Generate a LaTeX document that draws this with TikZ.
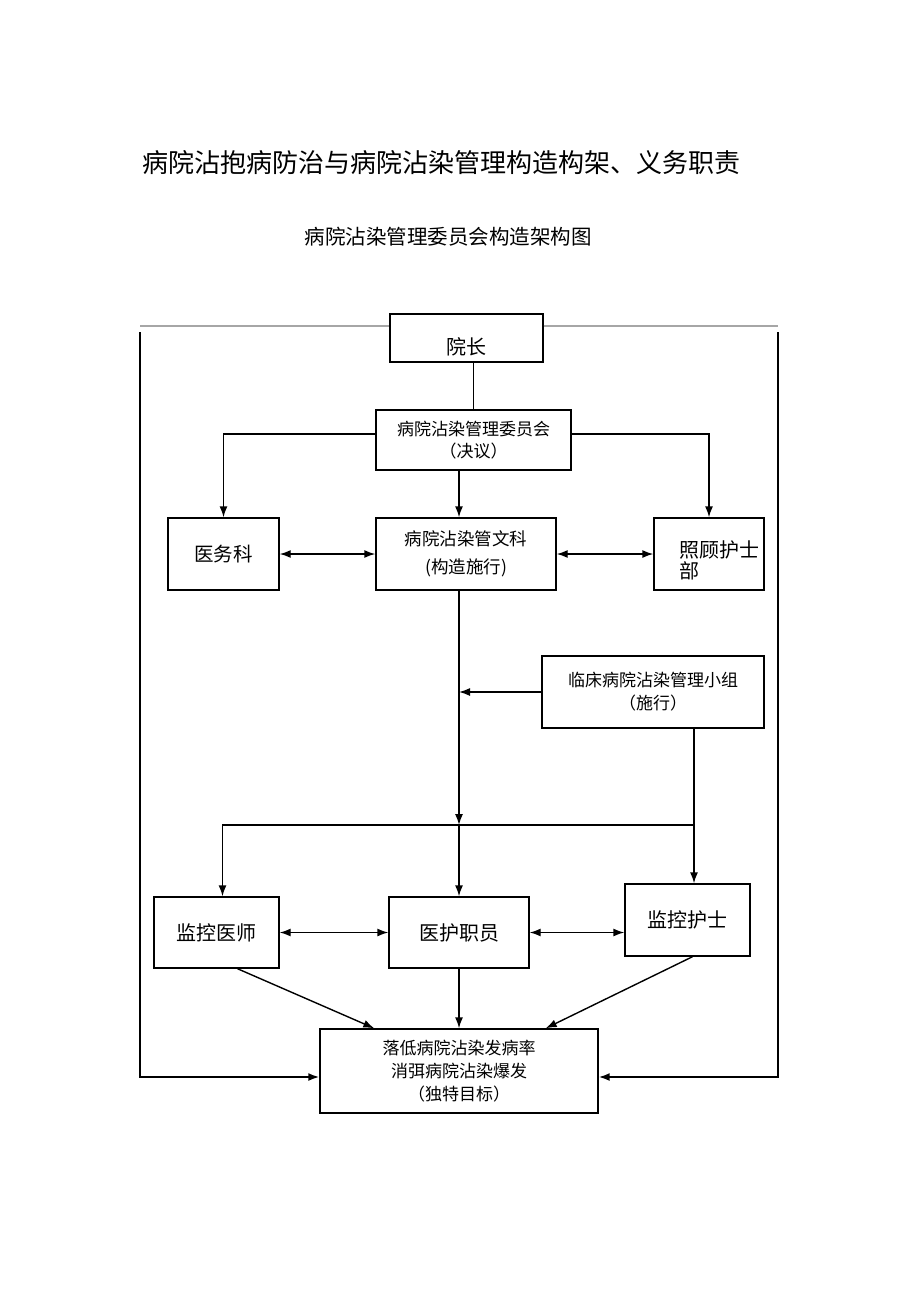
\documentclass[tikz,border=0pt]{standalone}
\usepackage{fontspec}
\setmainfont{Noto Sans CJK SC}
\usepackage{tikz}
\usetikzlibrary{arrows.meta,calc,positioning}

\begin{document}
\begin{tikzpicture}[x=1pt,y=-1pt,
  box/.style={draw,line width=1.4pt,inner sep=2pt,align=center},
  arr/.style={line width=1.4pt,-{Latex[length=11pt,width=8pt]}},
  darr/.style={line width=1.4pt,{Latex[length=11pt,width=8pt]}-{Latex[length=11pt,width=8pt]}},
  link/.style={line width=1.4pt}]
\useasboundingbox (0,0) rectangle (920,1303);
\node[font=\fontsize{26}{30}\selectfont] (title) at (441,163) {病院沾抱病防治与病院沾染管理构造构架、义务职责};
\node[font=\fontsize{20.5}{24}\selectfont] (subtitle) at (448,237) {病院沾染管理委员会构造架构图};
\node[box,minimum width=153,minimum height=48,text height=32pt,text depth=0pt,font=\fontsize{20}{24}\selectfont] (dean) at (466.5,338) {院长};
\node[box,minimum width=195,minimum height=60,font=\fontsize{17}{22}\selectfont] (committee) at (473.5,440) {病院沾染管理委员会\\（决议）};
\node[box,minimum width=111,minimum height=72,font=\fontsize{19.5}{24}\selectfont] (medical) at (223.5,554) {医务科};
\node[box,minimum width=180,minimum height=72,font=\fontsize{17.5}{28}\selectfont] (admin) at (466,554) {病院沾染管文科\\(构造施行)};
\node[box,minimum width=110,minimum height=72] (nursing) at (709,554) {};
\node[anchor=west,align=left,inner sep=0pt,font=\fontsize{20}{21}\selectfont] (nursingtext) at ([xshift=26,yshift=-6]nursing.west) {照顾护士\\部};
\node[box,minimum width=222,minimum height=72,font=\fontsize{17}{23}\selectfont] (clinical) at (653,692) {临床病院沾染管理小组\\（施行）};
\node[box,minimum width=125,minimum height=71,font=\fontsize{20}{24}\selectfont] (supdoctor) at (216.5,932.5) {监控医师};
\node[box,minimum width=140,minimum height=71,font=\fontsize{20}{24}\selectfont] (staff) at (459,932.5) {医护职员};
\node[box,minimum width=125,minimum height=72,font=\fontsize{20}{24}\selectfont] (supnurse) at (687.5,920) {监控护士};
\node[box,minimum width=278,minimum height=84,font=\fontsize{17}{23}\selectfont] (goal) at (459,1071) {落低病院沾染发病率\\消弭病院沾染爆发\\（独特目标）};
% outer frame
\coordinate (topleft) at (140,326);
\coordinate (topright) at (778,326);
\coordinate (sideleft) at (140,332);
\coordinate (sideright) at (778,332);
\draw[line width=1.4pt,gray!70] (topleft) -- (topleft -| dean.west);
\draw[line width=1.4pt,gray!70] (topright -| dean.east) -- (topright);
\draw[arr,line width=1.8pt] (sideleft) |- ([yshift=-6]goal.west);
\draw[arr,line width=1.8pt] (sideright) |- ([yshift=-6]goal.east);
% top part
\draw[link] (committee.north |- dean.south) -- (committee.north);
\draw[arr] ([yshift=6]committee.west) -| (medical.north);
\draw[arr] ([yshift=6]committee.east) -| (nursing.north);
\draw[arr] (staff.north |- committee.south) -- (staff.north |- admin.north);
\draw[darr] (medical.east) -- (admin.west);
\draw[darr] (admin.east) -- (nursing.west);
% middle part
\coordinate (split) at (staff.north |- 0,825);
\draw[arr] (staff.north |- admin.south) -- (split);
\draw[arr] (clinical.west) -- (clinical.west -| staff.north);
\draw[arr] (split) -- (staff.north);
\coordinate (clinicalout) at ([xshift=41]clinical.south);
\draw[arr] (clinicalout) -- (clinicalout |- supnurse.north);
\draw[arr] (clinicalout |- split) -| ([xshift=6]supdoctor.north);
\draw[darr] (supdoctor.east) -- (staff.west);
\draw[darr] (staff.east) -- (staff.east -| supnurse.west);
% bottom part
\draw[arr] ([xshift=21]supdoctor.south) -- ([xshift=55]goal.north west);
\draw[arr] (staff.south) -- (goal.north);
\draw[arr] ([xshift=5]supnurse.south) -- ([xshift=-53]goal.north east);
\end{tikzpicture}
\end{document}
